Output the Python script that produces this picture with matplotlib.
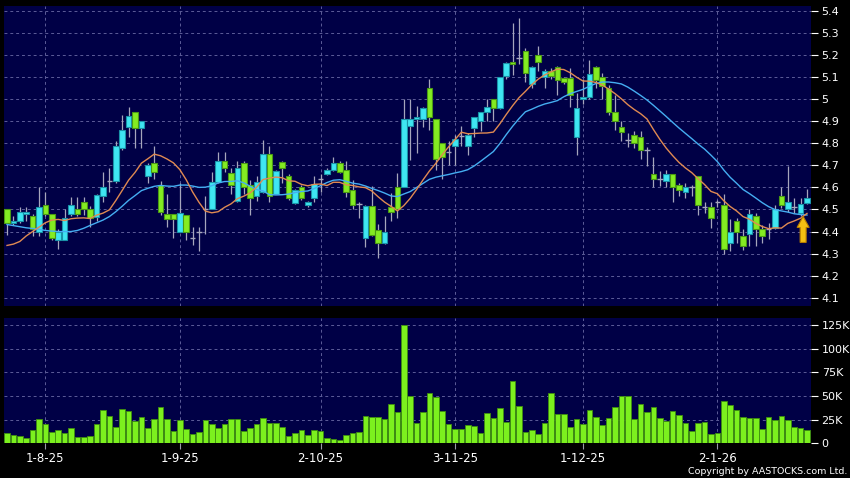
import matplotlib
matplotlib.use("Agg")
import matplotlib.pyplot as plt
import numpy as np
import pandas as pd
from matplotlib.patches import Polygon

# ---------------- data ----------------
opens = [4.50, 4.44, 4.45, 4.48, 4.47, 4.40, 4.52, 4.48, 4.36, 4.36,
         4.48, 4.50, 4.535, 4.50, 4.465, 4.56, 4.625, 4.63, 4.78, 4.875,
         4.94, 4.87, 4.65, 4.71, 4.61, 4.48, 4.48, 4.40, 4.475, 4.37,
         4.40, 4.50, 4.50, 4.625, 4.72, 4.665, 4.54, 4.71, 4.61, 4.56,
         4.58, 4.75, 4.57, 4.715, 4.65, 4.53, 4.60, 4.52, 4.55, 4.64,
         4.66, 4.68, 4.71, 4.68, 4.59, 4.52, 4.37, 4.515, 4.405, 4.35,
         4.51, 4.60, 4.60, 4.88, 4.91, 4.91, 5.05, 4.91, 4.80, 4.76,
         4.79, 4.83, 4.79, 4.87, 4.90, 4.94, 5.00, 4.96, 5.105, 5.17,
         5.18, 5.22, 5.07, 5.20, 5.10, 5.13, 5.145, 5.095, 5.095, 4.83,
         5.00, 5.01, 5.145, 5.10, 5.05, 4.94, 4.875, 4.815, 4.84, 4.83,
         4.77, 4.66, 4.645, 4.627, 4.66, 4.61, 4.58, 4.60, 4.65, 4.515,
         4.51, 4.535, 4.52, 4.35, 4.45, 4.38, 4.39, 4.47, 4.41, 4.405,
         4.415, 4.56, 4.50, 4.505, 4.485, 4.53]
highs = [4.50, 4.47, 4.51, 4.51, 4.48, 4.60, 4.58, 4.48, 4.41, 4.50,
         4.555, 4.555, 4.555, 4.515, 4.57, 4.67, 4.69, 4.81, 4.93, 4.965,
         4.94, 4.90, 4.71, 4.79, 4.63, 4.57, 4.48, 4.62, 4.475, 4.42,
         4.42, 4.56, 4.67, 4.76, 4.76, 4.69, 4.72, 4.72, 4.635, 4.65,
         4.815, 4.79, 4.68, 4.72, 4.66, 4.595, 4.61, 4.54, 4.65, 4.66,
         4.69, 4.74, 4.72, 4.72, 4.635, 4.535, 4.52, 4.605, 4.435, 4.47,
         4.575, 4.665, 5.00, 5.00, 4.97, 4.965, 5.09, 4.91, 4.80, 4.81,
         4.84, 4.88, 4.845, 4.92, 4.94, 5.00, 5.00, 5.10, 5.17, 5.345,
         5.37, 5.23, 5.15, 5.24, 5.135, 5.14, 5.15, 5.10, 5.14, 5.03,
         5.09, 5.18, 5.15, 5.12, 5.065, 5.02, 4.90, 4.845, 4.855, 4.855,
         4.785, 4.74, 4.675, 4.68, 4.66, 4.62, 4.62, 4.61, 4.65, 4.535,
         4.535, 4.545, 4.57, 4.455, 4.46, 4.41, 4.50, 4.485, 4.43, 4.44,
         4.52, 4.60, 4.695, 4.55, 4.55, 4.595]
lows = [4.385, 4.43, 4.44, 4.45, 4.38, 4.38, 4.47, 4.36, 4.32, 4.36,
        4.47, 4.47, 4.475, 4.42, 4.45, 4.535, 4.58, 4.62, 4.77, 4.83,
        4.78, 4.78, 4.62, 4.64, 4.475, 4.42, 4.37, 4.40, 4.36, 4.34,
        4.31, 4.39, 4.50, 4.62, 4.67, 4.57, 4.535, 4.57, 4.475, 4.54,
        4.575, 4.535, 4.57, 4.62, 4.545, 4.525, 4.545, 4.51, 4.535, 4.58,
        4.655, 4.675, 4.665, 4.555, 4.50, 4.46, 4.33, 4.38, 4.28, 4.345,
        4.45, 4.46, 4.60, 4.725, 4.755, 4.875, 4.86, 4.68, 4.64, 4.70,
        4.70, 4.79, 4.745, 4.83, 4.855, 4.90, 4.90, 4.955, 5.09, 5.11,
        5.16, 5.08, 5.05, 5.13, 5.05, 5.09, 5.02, 5.07, 4.965, 4.745,
        4.98, 5.00, 5.05, 5.00, 4.93, 4.86, 4.81, 4.785, 4.78, 4.73,
        4.695, 4.60, 4.605, 4.60, 4.535, 4.56, 4.55, 4.56, 4.475, 4.485,
        4.415, 4.51, 4.30, 4.31, 4.35, 4.315, 4.335, 4.335, 4.35, 4.365,
        4.41, 4.505, 4.49, 4.485, 4.47, 4.525]
closes = [4.44, 4.45, 4.49, 4.49, 4.41, 4.51, 4.48, 4.37, 4.40, 4.46,
          4.52, 4.48, 4.50, 4.46, 4.565, 4.60, 4.63, 4.79, 4.86, 4.925,
          4.87, 4.90, 4.70, 4.67, 4.49, 4.455, 4.455, 4.485, 4.40, 4.37,
          4.40, 4.50, 4.625, 4.72, 4.69, 4.61, 4.69, 4.60, 4.55, 4.625,
          4.75, 4.56, 4.675, 4.69, 4.55, 4.59, 4.55, 4.535, 4.615, 4.64,
          4.68, 4.71, 4.67, 4.58, 4.52, 4.525, 4.515, 4.385, 4.35, 4.40,
          4.49, 4.50, 4.91, 4.91, 4.92, 4.96, 4.92, 4.73, 4.74, 4.76,
          4.82, 4.835, 4.84, 4.92, 4.94, 4.965, 4.96, 5.10, 5.165, 5.16,
          5.185, 5.12, 5.145, 5.17, 5.13, 5.105, 5.085, 5.08, 5.02, 4.96,
          5.01, 5.115, 5.085, 5.06, 4.94, 4.90, 4.85, 4.815, 4.80, 4.77,
          4.77, 4.64, 4.64, 4.66, 4.60, 4.59, 4.60, 4.60, 4.52, 4.51,
          4.46, 4.535, 4.32, 4.40, 4.40, 4.335, 4.48, 4.41, 4.38, 4.41,
          4.50, 4.52, 4.535, 4.51, 4.525, 4.55]
volumes_k = [10.6, 9.2, 7.4, 5.6, 14.1, 25.4, 20.8, 12.0, 14.1, 10.9,
             15.8, 6.3, 6.3, 8.1, 20.8, 35.2, 28.9, 16.9, 36.3, 33.8,
             23.9, 27.5, 15.8, 25.4, 38.7, 25.4, 13.4, 24.6, 15.5, 10.2,
             12.0, 24.6, 20.8, 16.5, 20.4, 25.7, 26.1, 13.4, 16.2, 20.4,
             26.8, 21.5, 21.1, 16.9, 7.7, 10.9, 13.7, 9.2, 14.4, 13.0,
             5.6, 4.6, 3.2, 9.2, 10.9, 12.0, 28.9, 27.5, 28.2, 25.4,
             41.5, 32.7, 125.0, 50.0, 21.8, 33.5, 52.8, 49.3, 34.5, 20.1,
             15.1, 15.1, 19.0, 18.3, 10.6, 32.4, 26.8, 37.0, 22.5, 65.8,
             39.1, 12.0, 13.7, 9.9, 21.1, 52.8, 31.3, 31.0, 17.3, 26.1,
             20.4, 35.2, 28.2, 19.4, 27.1, 38.7, 50.0, 49.6, 25.4, 41.9,
             33.1, 38.0, 26.4, 23.2, 33.8, 29.9, 21.5, 12.7, 21.8, 22.2,
             9.9, 10.6, 44.4, 40.8, 35.6, 27.8, 27.1, 27.1, 15.5, 27.8,
             24.3, 28.5, 24.6, 16.9, 16.5, 13.7]
# moving-average values visible before a full window is available in the shown range
ma10_head = [4.337, 4.343, 4.355, 4.38, 4.40, 4.42, 4.44, 4.452, 4.455]
ma20_head = [4.432, 4.427, 4.422, 4.417, 4.414, 4.41, 4.405, 4.402, 4.40, 4.40,
             4.40, 4.405, 4.415, 4.428, 4.44, 4.452, 4.468, 4.49, 4.515]

tick_idx = [6, 27, 49, 70, 90, 111]
tick_labels = ["1-8-25", "1-9-25", "2-10-25", "3-11-25", "1-12-25", "2-1-26"]
price_ticks = [4.1, 4.2, 4.3, 4.4, 4.5, 4.6, 4.7, 4.8, 4.9, 5.0, 5.1, 5.2, 5.3, 5.4]
vol_ticks = [0, 25, 50, 75, 100, 125]

# ---------------- derived ----------------
o = np.array(opens); h = np.array(highs); l = np.array(lows); c = np.array(closes)
n = len(c)
x = np.arange(n)
cs = pd.Series(c)
ma10 = cs.rolling(10).mean().to_numpy()
ma10[:len(ma10_head)] = ma10_head
ma20 = cs.rolling(20).mean().to_numpy()
ma20[:len(ma20_head)] = ma20_head

# ---------------- style ----------------
BG = "#000046"
GRID = "#5c5c98"
CYAN, CYAN_E = "#3fe6f2", "#1a93a8"
GREEN, GREEN_E = "#84ec22", "#4a9a14"
WICK = "#a6a6bc"

W, H = 850, 478
fig = plt.figure(figsize=(W / 100, H / 100), dpi=100, facecolor="black")
ax1 = fig.add_axes([4 / W, 1 - 306 / H, (810.5 - 4) / W, 300 / H], facecolor=BG)
ax2 = fig.add_axes([4 / W, 1 - 443.3 / H, (810.5 - 4) / W, 125 / H], facecolor=BG)

xlim = (-0.47, 125.55)
for ax in (ax1, ax2):
    for s in ax.spines.values():
        s.set_visible(False)
    ax.set_xlim(*xlim)
    ax.set_axisbelow(True)

# ---- price panel ----
ax1.set_ylim(4.0624, 5.4227)
ax1.vlines(x, l, h, color=WICK, linewidth=0.9, zorder=2)
doji = np.abs(c - o) < 0.007
up = (c > o) & ~doji
dn = (c <= o) & ~doji
bw = 0.88
ax1.bar(x[up], (c - o)[up], bottom=o[up], width=bw, color=CYAN,
        edgecolor=CYAN_E, linewidth=0.8, zorder=3)
ax1.bar(x[dn], (o - c)[dn], bottom=c[dn], width=bw, color=GREEN,
        edgecolor=GREEN_E, linewidth=0.8, zorder=3)
ax1.hlines(c[doji], x[doji] - bw / 2, x[doji] + bw / 2, color=WICK,
           linewidth=1.0, zorder=3)
ax1.plot(x, ma20, color="#45aef2", linewidth=1.0, zorder=4)
ax1.plot(x, ma10, color="#e08a52", linewidth=1.0, zorder=5)

# yellow signal arrow below the last bars
ax_c = n - 1.6
tip = ma10[n - 2] + 0.008
hw, sw = 0.95, 0.47
base = tip - 0.05
bot = tip - 0.118
arrow = Polygon([(ax_c, tip), (ax_c + hw, base), (ax_c + sw, base), (ax_c + sw, bot),
                 (ax_c - sw, bot), (ax_c - sw, base), (ax_c - hw, base)],
                closed=True, facecolor="#f4bf12", edgecolor="#b57a00",
                linewidth=0.8, zorder=6)
ax1.add_patch(arrow)

ax1.set_yticks(price_ticks)
ax1.set_yticklabels([f"{v:g}" for v in price_ticks])
ax1.yaxis.tick_right()
ax1.tick_params(axis="y", colors="white", length=5, width=0.8, pad=3, labelsize=8)
ax1.set_xticks(tick_idx)
ax1.tick_params(axis="x", length=0, labelbottom=False)
ax1.grid(True, color=GRID, linestyle=(0, (3, 3)), linewidth=0.7)

# ---- volume panel ----
ax2.set_ylim(0, 132.1)
ax2.bar(x, volumes_k, width=bw, color="#7cf01e", edgecolor="#3f8f0f",
        linewidth=0.6, zorder=3)
ax2.set_yticks(vol_ticks)
ax2.set_yticklabels([f"{v}K" if v else "0" for v in vol_ticks])
ax2.yaxis.tick_right()
ax2.tick_params(axis="y", colors="white", length=5, width=0.8, pad=3, labelsize=8)
ax2.set_xticks(tick_idx)
ax2.set_xticklabels(tick_labels)
ax2.tick_params(axis="x", colors="#9a9aaa", labelcolor="white", length=4,
                width=0.8, pad=2, labelsize=8.5)
ax2.grid(True, color=GRID, linestyle=(0, (3, 3)), linewidth=0.7)

fig.text(847 / W, 1 - 471 / H, "Copyright by AASTOCKS.com Ltd.", ha="right",
         va="center", color="white", fontsize=6.8)

fig.savefig("out.png", dpi=100, facecolor="black")
